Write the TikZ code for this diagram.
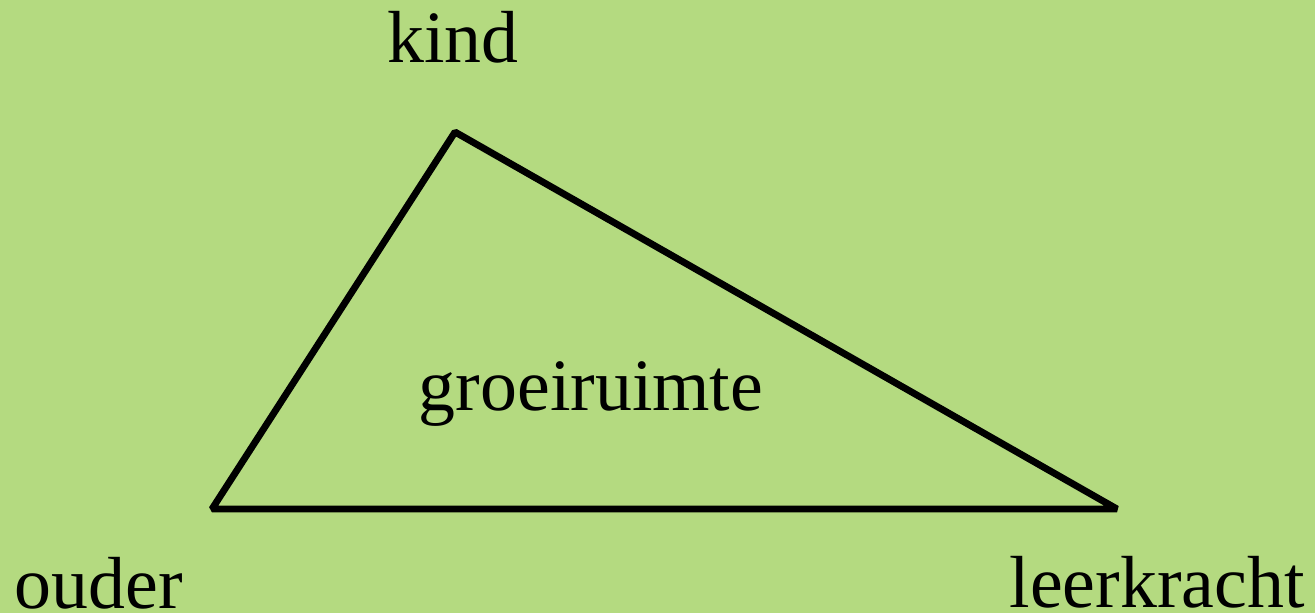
\documentclass[tikz,border=0pt]{standalone}
\usepackage{fontspec}
\setmainfont{Liberation Serif}
\usetikzlibrary{positioning,calc}
\definecolor{Meadow}{HTML}{B4DA80}
\definecolor{Ink}{HTML}{000000}
\tikzset{
  label/.style={font=\fontsize{42}{48}\selectfont,text=Ink,inner sep=0pt,anchor=base},
  edge/.style={draw=Ink,line width=3.9pt,line join=bevel}
}

\begin{document}
\begin{tikzpicture}
  \fill[Meadow] (0,0) rectangle (26.3,12.26);
  \useasboundingbox (0,0) rectangle (26.3,12.26);
  \coordinate (top) at (9.10,9.62);
  \coordinate (left) at (4.24,2.08);
  \coordinate (right) at (22.34,2.08);
  \draw[edge] (top) -- (right) -- (left) -- cycle;
  \node[label] (kind) at (9.06,11.00) {kind};
  \node[label] (ouder) at (1.98,0.10) {ouder};
  \node[label] (leerkracht) at (23.14,0.12) {leerkracht};
  \node[label] (groei) at (11.82,4.06) {groeiruimte};
\end{tikzpicture}
\end{document}
